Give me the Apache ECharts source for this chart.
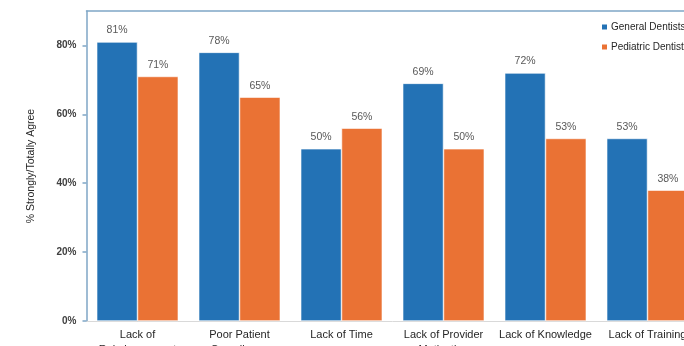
<!DOCTYPE html>
<html>
<head>
<meta charset="utf-8">
<script src="https://cdn.jsdelivr.net/npm/echarts@6/dist/echarts.min.js"></script>
<style>
  html, body { margin: 0; padding: 0; background: #fff; overflow: hidden; }
  #chart { width: 720px; height: 346px; }
</style>
</head>
<body>
<div id="chart"></div>
<script>
// Barriers reported, share of respondents who strongly/totally agree
const categories = [
  'Lack of\nReimbursement',
  'Poor Patient\nCompliance',
  'Lack of Time',
  'Lack of Provider\nMotivation',
  'Lack of Knowledge',
  'Lack of Training'
];
const generalDentists = [81, 78, 50, 69, 72, 53];
const pediatricDentists = [71, 65, 56, 50, 53, 38];
const seriesNames = ['General Dentists', 'Pediatric Dentists'];
const yTicks = [0, 20, 40, 60, 80];

const FONT = '"Liberation Sans", Arial, sans-serif';
const FRAME = '#7FA6C6';

const chart = echarts.init(document.getElementById('chart'), null, { renderer: 'canvas' });

const labelStyle = {
  show: true,
  position: 'top',
  distance: 6,
  formatter: p => p.value + '%',
  fontFamily: FONT,
  fontSize: 10.5,
  color: '#595959'
};

chart.setOption({
  animation: false,
  backgroundColor: '#fff',
  color: ['#2372B5', '#EA7234'],
  grid: {
    left: 86.5, top: 11, width: 612, bottom: 25,
    containLabel: false, outerBoundsMode: 'none'
  },
  legend: {
    orient: 'vertical',
    left: 600,
    top: 22,
    padding: 0,
    itemWidth: 7,
    itemHeight: 7,
    itemGap: 10,
    icon: 'rect',
    data: seriesNames,
    textStyle: { fontFamily: FONT, fontSize: 10, color: '#262626', padding: [0, 0, 0, -2] }
  },
  xAxis: [
    {
      type: 'category',
      data: categories,
      axisLine: { show: true, lineStyle: { color: '#D9D9D9', width: 1 } },
      axisTick: { show: false },
      axisLabel: {
        interval: 0,
        margin: 6,
        fontFamily: FONT,
        fontSize: 11,
        lineHeight: 15,
        color: '#262626'
      }
    },
    {
      // upper frame line of the plot
      type: 'category',
      position: 'top',
      data: categories,
      axisLine: { show: true, lineStyle: { color: FRAME, width: 1.5 } },
      axisTick: { show: false },
      axisLabel: { show: false }
    }
  ],
  yAxis: {
    type: 'value',
    min: 0,
    max: 90,
    interval: 20,
    name: '% Strongly/Totally Agree',
    nameLocation: 'middle',
    nameGap: 50,
    nameTextStyle: { fontFamily: FONT, fontSize: 10.5, color: '#262626' },
    axisLine: { show: true, lineStyle: { color: FRAME, width: 1.5 } },
    axisTick: { show: true, length: 4, lineStyle: { color: FRAME, width: 1.5 } },
    axisLabel: {
      showMaxLabel: false,
      margin: 10,
      fontFamily: FONT,
      fontSize: 10,
      fontWeight: 'bold',
      color: '#404040',
      formatter: v => (yTicks.includes(v) ? v + '%' : '')
    },
    splitLine: { show: false }
  },
  series: [
    {
      name: seriesNames[0],
      type: 'bar',
      data: generalDentists,
      barGap: '0%',
      barCategoryGap: '20%',
      itemStyle: { borderColor: '#ffffff', borderWidth: 0.6 },
      label: labelStyle
    },
    {
      name: seriesNames[1],
      type: 'bar',
      data: pediatricDentists,
      itemStyle: { borderColor: '#ffffff', borderWidth: 0.6 },
      label: labelStyle
    }
  ]
});
</script>
</body>
</html>
